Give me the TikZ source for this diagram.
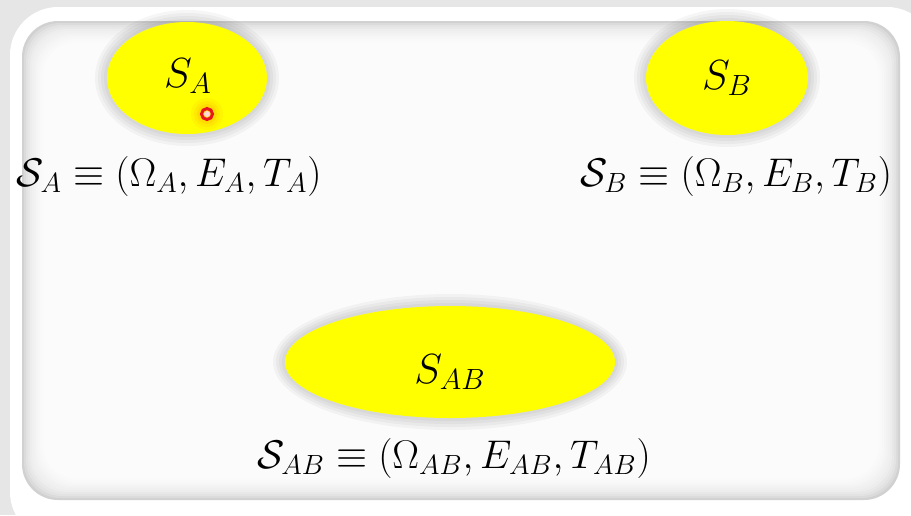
\documentclass[tikz,border=0pt]{standalone}
\usepackage{amssymb}
\definecolor{bggray}{HTML}{E6E6E6}
\definecolor{sysyellow}{HTML}{FFFF00}
\definecolor{cursorred}{HTML}{E8141E}
\tikzset{
  eqlabel/.style={font=\huge, scale=1.93, inner sep=0pt},
  syslabel/.style={font=\huge, scale=2.03, inner sep=0pt}
}
\begin{document}
\begin{tikzpicture}[x=1pt,y=-1pt]
\useasboundingbox (0,0) rectangle (911,515);
% background
\fill[bggray] (0,0) rectangle (911,515);
\fill[white, rounded corners=48] (10,7) rectangle (935,540);
% inner panel with soft inner shadow
\foreach \i/\g in {0/18,1/14,2/11,3/9,4/7,5/6,6/5,7/4,8/3,9/2.5,10/2}{
  \fill[black!\g, rounded corners=36] ({22+2*\i},{21+2*\i}) rectangle ({900-2*\i},{500-2*\i});
}
\fill[black!1.5, rounded corners=30] (44,43) rectangle (878,478);
% ellipse glows
\foreach \r in {12,9,6,3}{
  \fill[black, opacity=0.035] (187,78) ellipse ({80+\r} and {56+\r});
  \fill[black, opacity=0.035] (727,78) ellipse ({81+\r} and {57+\r});
  \fill[black, opacity=0.035] (450,362) ellipse ({165+\r} and {56+\r});
}
\fill[sysyellow] (187,78) ellipse (80 and 56);
\fill[sysyellow] (727,78) ellipse (81 and 57);
\fill[sysyellow] (450,362) ellipse (165 and 56);
\node[syslabel] (la) at (188,76) {$S_A$};
\node[syslabel] (lb) at (727,78) {$S_B$};
\node[syslabel] (lab) at (450,372) {$S_{AB}$};
% cursor
\foreach \r/\o in {16/0.08,13/0.1,10/0.12}{
  \fill[orange, opacity=\o] (207,114) circle (\r);
}
\draw[cursorred, line width=3] (207,114) circle (5.5);
\fill[red!15] (207,114) circle (3);
% equations
\node[eqlabel] (ea) at (169,176) {$\mathcal{S}_A \equiv (\Omega_A, E_A, T_A)$};
\node[eqlabel] (eb) at (736,176) {$\mathcal{S}_B \equiv (\Omega_B, E_B, T_B)$};
\node[eqlabel] (eab) at (454,458) {$\mathcal{S}_{AB} \equiv (\Omega_{AB}, E_{AB}, T_{AB})$};
\end{tikzpicture}
\end{document}
